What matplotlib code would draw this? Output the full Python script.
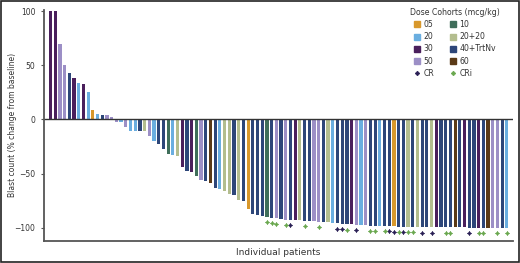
import numpy as np
import matplotlib
matplotlib.use("Agg")
import matplotlib.pyplot as plt
from matplotlib.lines import Line2D

plt.rcParams["font.family"] = ["Liberation Sans Narrow", "DejaVu Sans"]

# Cohort colours
cohort_colors = {
    "05": "#d8982c",
    "10": "#3f6e5a",
    "20": "#6aaee0",
    "20+20": "#b3bd8e",
    "30": "#4a1f5c",
    "40+TrtNv": "#2d4679",
    "50": "#9c8fc6",
    "60": "#5b3a16",
}

# Waterfall values (% change in blast count), one per patient, sorted
change = [
    100, 100, 70, 50, 43, 38, 34, 33, 25, 9,
    5, 4, 4, 2.5, -2, -2, -7, -10.5, -10.5, -10.5,
    -11, -15.5, -19.5, -22.6, -27, -31.5, -33, -34, -43.5, -48,
    -49, -52.7, -55.7, -57, -58.5, -63, -64.7, -66, -68.5, -69.6,
    -74.8, -75.7, -82.8, -87, -88.5, -89.5, -90, -91, -91.5, -92,
    -92.5, -92.7, -93, -93.2, -93.5, -93.7, -94, -94.3, -94.5, -95,
    -95.5, -96, -96.5, -97, -97, -97.3, -97.5, -97.8, -98, -98,
    -98.2, -98.5, -98.5, -98.7, -99, -99, -99, -99.2, -99.5, -99.5,
    -99.5, -99.5, -99.6, -99.6, -99.7, -99.7, -99.8, -99.8, -99.8, -99.9,
    -99.9, -99.9, -100, -100, -100, -100, -100, -100,
]

cohort = [
    "30", "30", "50", "50", "40+TrtNv", "30", "20", "30", "20", "05",
    "20", "40+TrtNv", "50", "50", "50", "20", "50", "20", "20", "40+TrtNv",
    "20+20", "50", "20", "40+TrtNv", "40+TrtNv", "10", "20", "20+20", "30", "40+TrtNv",
    "30", "10", "50", "40+TrtNv", "60", "40+TrtNv", "20", "20+20", "20+20", "40+TrtNv",
    "20+20", "40+TrtNv", "05", "40+TrtNv", "40+TrtNv", "40+TrtNv", "10", "40+TrtNv", "50", "40+TrtNv",
    "50", "40+TrtNv", "30", "20+20", "40+TrtNv", "40+TrtNv", "50", "50", "40+TrtNv", "20+20",
    "20", "40+TrtNv", "40+TrtNv", "40+TrtNv", "30", "50", "20", "50", "40+TrtNv", "40+TrtNv",
    "20", "40+TrtNv", "40+TrtNv", "05", "40+TrtNv", "40+TrtNv", "20+20", "40+TrtNv", "20+20", "40+TrtNv",
    "40+TrtNv", "20+20", "30", "40+TrtNv", "40+TrtNv", "40+TrtNv", "60", "40+TrtNv", "30", "40+TrtNv",
    "40+TrtNv", "30", "40+TrtNv", "60", "50", "50", "40+TrtNv", "20",
]

# Response markers (1-based patient index)
cr_patients = [52, 62, 63, 66, 73, 74, 76, 80, 82, 90]
cri_patients = [47, 48, 49, 51, 55, 58, 64, 69, 70, 72, 75, 77, 78, 85, 86, 92, 93, 96, 98]

x = np.arange(len(change))
colors = [cohort_colors[c] for c in cohort]

fig = plt.figure(figsize=(5.2, 2.63), dpi=100)
ax = fig.add_axes([0.0852, 0.0848, 0.9004, 0.877])

ax.bar(x, change, width=0.68, color=colors, linewidth=0)

vals = np.array(change)
cr_idx = np.array(cr_patients) - 1
cri_idx = np.array(cri_patients) - 1
ax.plot(cr_idx, vals[cr_idx] - 5, linestyle="none", marker=(4, 1, 0),
        markersize=3.2, color="#2a1f55", markeredgewidth=0.4)
ax.plot(cri_idx, vals[cri_idx] - 5, linestyle="none", marker=(4, 1, 0),
        markersize=3.2, color="#6aa84f", markeredgewidth=0.4)

ax.axhline(0, color="#333333", linewidth=1.0)

ax.set_xlim(-1.32, 98.2)
ax.set_ylim(-112, 101)
ax.set_yticks([-100, -50, 0, 50, 100])
ax.set_xticks([])
for s in ["top", "right"]:
    ax.spines[s].set_visible(False)
ax.spines["left"].set_color("#555555")
ax.spines["bottom"].set_color("#555555")
ax.spines["left"].set_linewidth(1.3)
ax.spines["bottom"].set_linewidth(1.3)
ax.tick_params(axis="y", length=2.5, width=0.8, color="#555555",
               labelsize=5.5, labelcolor="#333333", pad=4)

ax.set_ylabel("Blast count (% change from baseline)", fontsize=5.5,
              color="#333333")
ax.yaxis.set_label_coords(-0.058, 0.5)
ax.set_xlabel("Individual patients", fontsize=6.5, color="#333333", labelpad=5)

# Legend
order = ["05", "20", "30", "50", None, "10", "20+20", "40+TrtNv", "60", None]
handles = []
labels = []
for i, key in enumerate(order):
    if key is None:
        if i < 5:
            handles.append(Line2D([], [], linestyle="none", marker=(4, 1, 0),
                                  markersize=3, color="#2a1f55"))
            labels.append("CR")
        else:
            handles.append(Line2D([], [], linestyle="none", marker=(4, 1, 0),
                                  markersize=3, color="#6aa84f"))
            labels.append("CRi")
    else:
        handles.append(Line2D([], [], linestyle="none", marker="s",
                              markersize=4.0, color=cohort_colors[key]))
        labels.append(key)

leg = fig.legend(handles, labels, ncol=2, loc="upper left",
                 bbox_to_anchor=(0.776, 0.993), frameon=False,
                 title="Dose Cohorts (mcg/kg)", fontsize=5.6,
                 title_fontsize=5.6, handlelength=1.0, handletextpad=0.3,
                 columnspacing=2.0, labelspacing=0.4, borderpad=0.3)
for t in leg.get_texts():
    t.set_color("#333333")
leg.get_title().set_color("#333333")

# Outer frame
fig.patches.append(plt.Rectangle((0.001, 0.002), 0.997, 0.996,
                                 transform=fig.transFigure, fill=False,
                                 edgecolor="#222222", linewidth=1.2))

fig.savefig("out.png", dpi=100)
